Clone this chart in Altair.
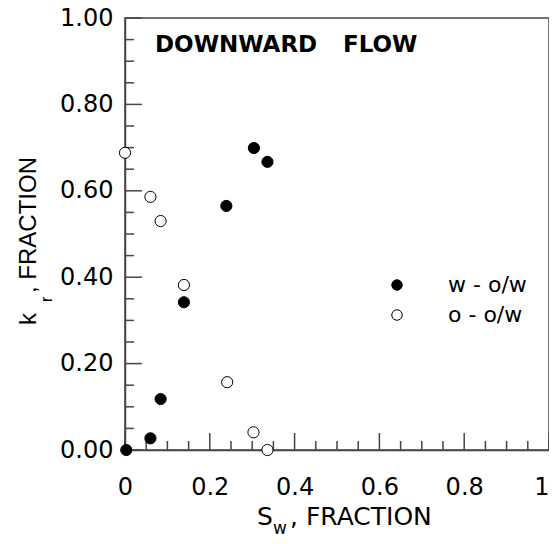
import altair as alt
import pandas as pd

# water relative permeability (filled)
sw_w = [0.003, 0.060, 0.084, 0.139, 0.239, 0.304, 0.336]
kr_w = [0.000, 0.027, 0.118, 0.342, 0.565, 0.699, 0.667]
# oil relative permeability (open)
sw_o = [0.000, 0.060, 0.084, 0.139, 0.241, 0.303, 0.336]
kr_o = [0.688, 0.586, 0.530, 0.382, 0.157, 0.041, 0.000]

series_names = ["w - o/w", "o - o/w"]
major_ticks = [0.0, 0.2, 0.4, 0.6, 0.8, 1.0]
minor_ticks = [0.05, 0.10, 0.15, 0.25, 0.30, 0.35, 0.45, 0.50, 0.55,
               0.65, 0.70, 0.75, 0.85, 0.90, 0.95]

W, H = 424, 432
AX = "#444444"

df = pd.DataFrame({
    "sw": sw_w + sw_o,
    "kr": kr_w + kr_o,
    "series": [series_names[0]] * len(sw_w) + [series_names[1]] * len(sw_o),
})

xs = alt.Scale(domain=[0, 1], nice=False, zero=False)
ys = alt.Scale(domain=[0, 1], nice=False, zero=False)

points = alt.Chart(df).mark_point(
    shape="circle", filled=True, stroke="black", strokeWidth=1, size=125, opacity=1
).encode(
    x=alt.X("sw:Q", scale=xs, axis=alt.Axis(
        values=major_ticks, format="~g", labelFont="DejaVu Sans", labelFontSize=24,
        labelColor="black", labelPadding=25, ticks=False, grid=False, title=None,
        labelFlush=False, labelOverlap=False, domainColor=AX,
        labelAlign={"condition": {"test": "datum.value >= 1", "value": "right"},
                    "value": "center"})),
    y=alt.Y("kr:Q", scale=ys, axis=alt.Axis(
        values=major_ticks, format=".2f", labelFont="DejaVu Sans", labelFontSize=24,
        labelColor="black", labelPadding=12, ticks=False, grid=False, title=None,
        labelFlush=False, labelOverlap=False, domainColor=AX)),
    fill=alt.Fill("series:N", scale=alt.Scale(domain=series_names, range=["black", "white"]),
                  legend=alt.Legend(
                      title=None, orient="none", legendX=261, legendY=256,
                      labelFont="DejaVu Sans", labelFontSize=22, labelColor="black",
                      labelOffset=40, symbolSize=110, symbolType="circle",
                      symbolStrokeColor="black", symbolStrokeWidth=1, symbolOpacity=1,
                      rowPadding=8, padding=0)),
)

xmaj = pd.DataFrame({"t": major_ticks})
xmin = pd.DataFrame({"t": minor_ticks})

def xticks(d, ln):
    return alt.Chart(d).mark_rule(color=AX, strokeWidth=1.5).encode(
        x=alt.X("t:Q", scale=xs), y=alt.value(H), y2=alt.value(H - ln))

def yticks(d, ln):
    return alt.Chart(d).mark_rule(color=AX, strokeWidth=1.5).encode(
        y=alt.Y("t:Q", scale=ys), x=alt.value(0), x2=alt.value(ln))

one = pd.DataFrame({"a": [0]})

def txt(s, x, y, size, font="DejaVu Sans", weight="normal", angle=0):
    return alt.Chart(one).mark_text(
        text=s, align="left", baseline="alphabetic", font=font, fontSize=size,
        fontWeight=weight, angle=angle, color="black"
    ).encode(x=alt.value(x), y=alt.value(y))

texts = [
    txt("DOWNWARD", 30, 34, 23, weight="bold"),
    txt("FLOW", 218, 34, 23, weight="bold"),
    txt("S", 132, 507, 25),
    txt("w", 148, 516, 17),
    txt(", FRACTION", 165, 507, 25),
    txt("k", -89, 307, 24, font="Liberation Sans", angle=270),
    txt("r", -73, 284, 16, font="Liberation Sans", angle=270),
    txt(", FRACTION", -89, 275, 24, font="Liberation Sans", angle=270),
]

chart = alt.layer(
    xticks(xmaj, 17), xticks(xmin, 9), yticks(xmaj, 17), yticks(xmin, 9),
    points, *texts
).properties(
    width=W, height=H,
    autosize=alt.AutoSizeParams(type="none"),
    padding={"left": 117, "top": 10, "right": 0, "bottom": 86},
).configure_view(stroke=AX, strokeWidth=1.5).configure_axis(domainWidth=1.5)

chart.save("out.html", embed_options={"renderer": "svg", "actions": False})
